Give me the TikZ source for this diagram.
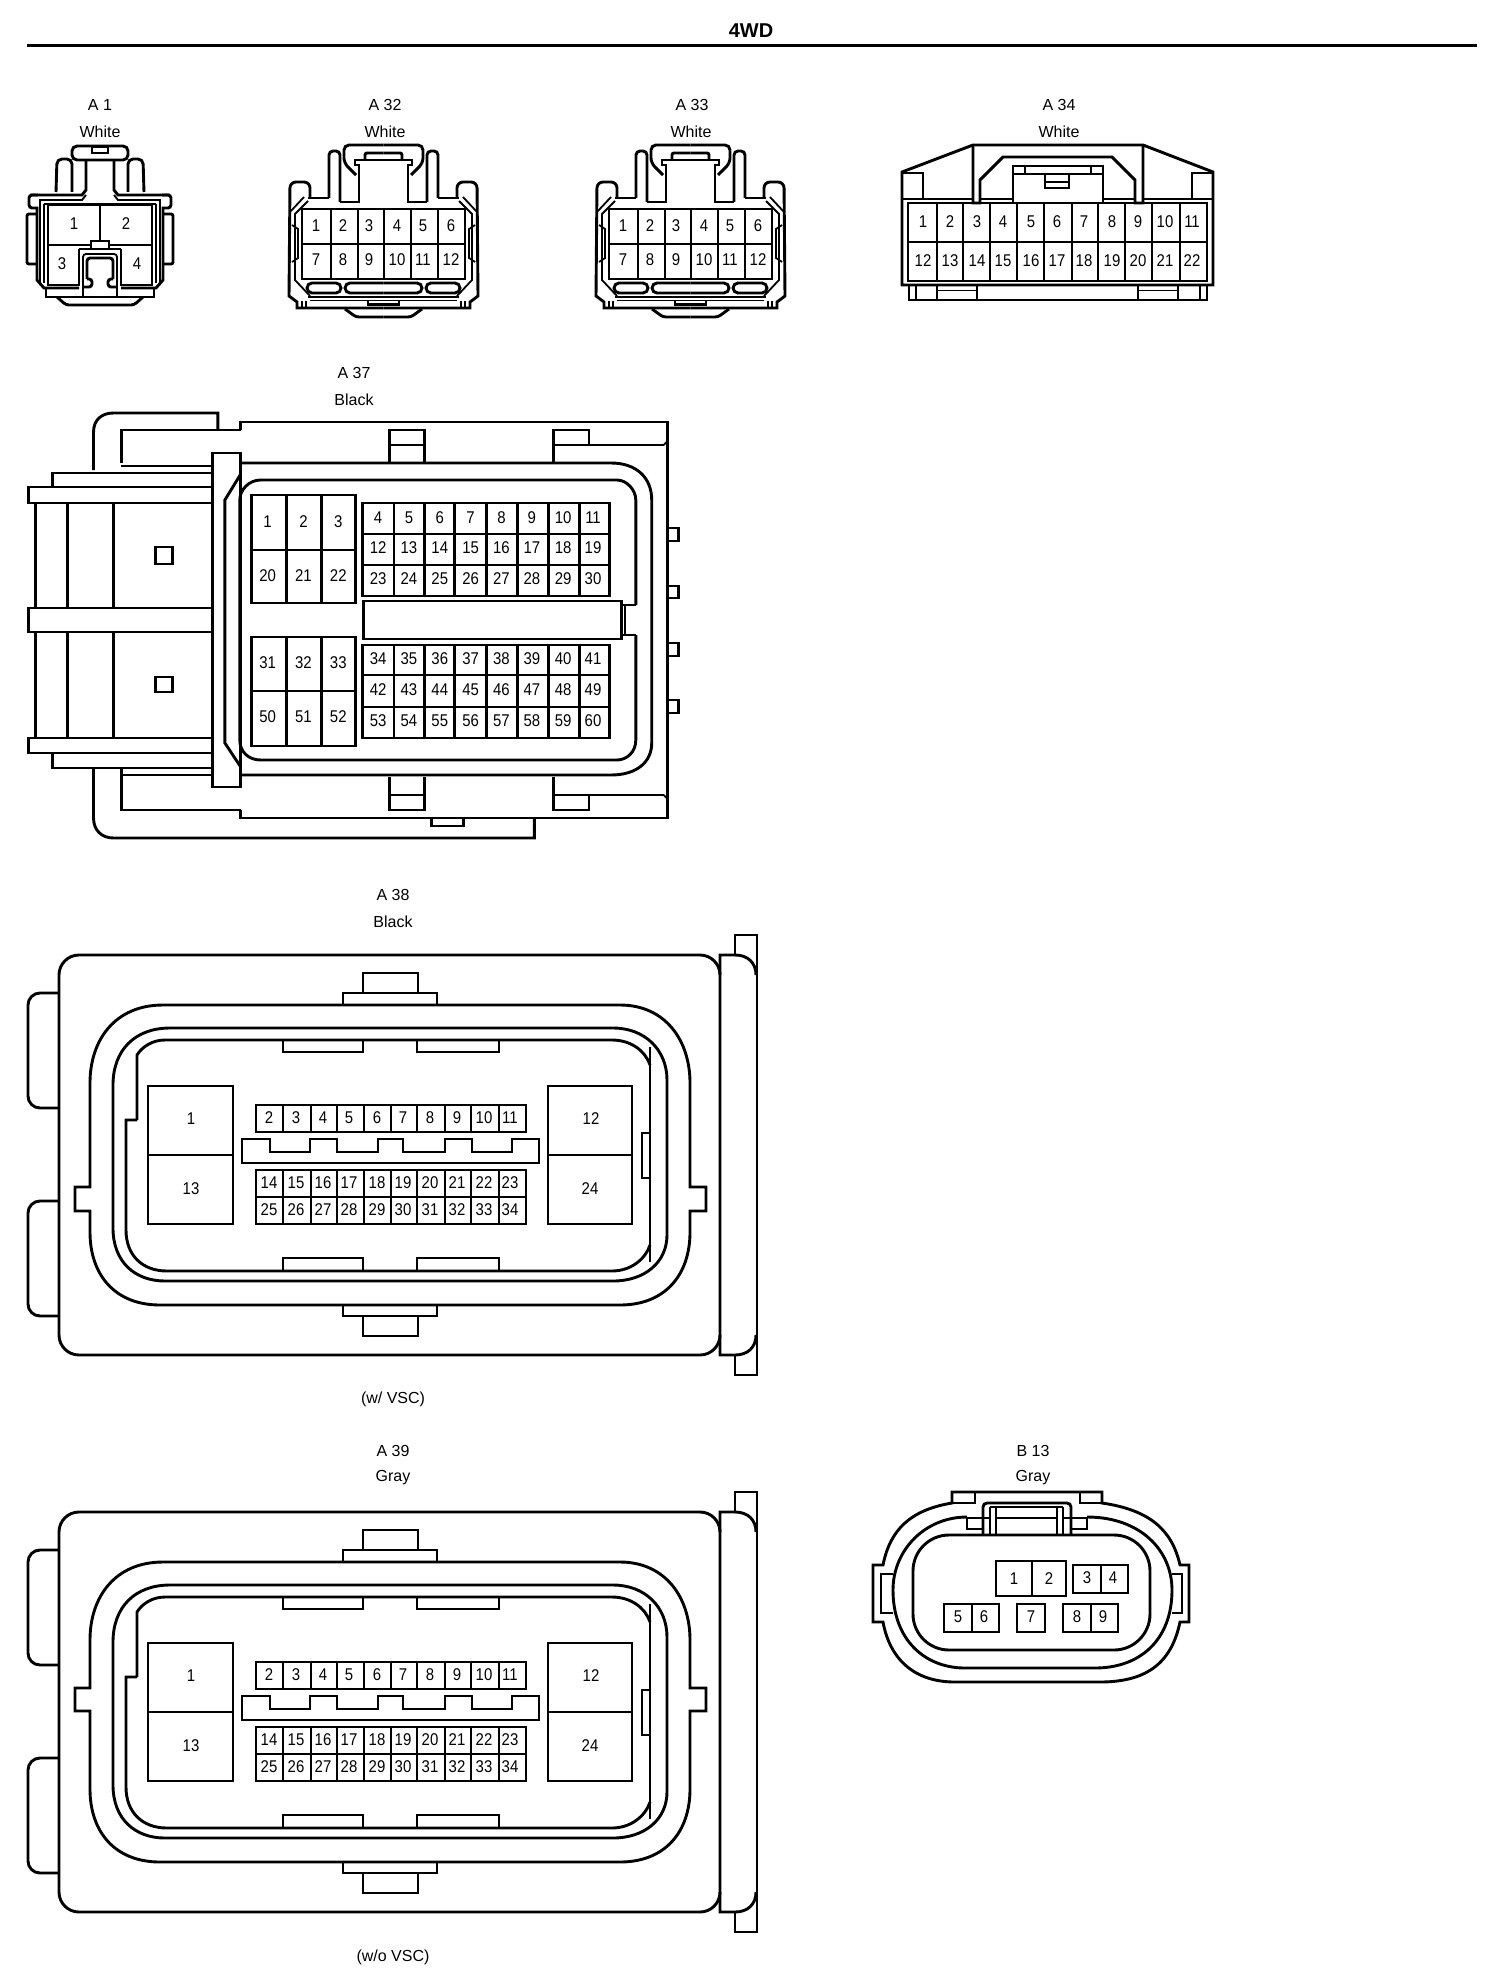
\documentclass[tikz,border=0pt]{standalone}
\usepackage{fontspec}
\setmainfont{Liberation Sans}
\newfontfamily\pinfont[FakeStretch=0.88]{Liberation Sans}
\tikzset{
  ln/.style={draw=black,line width=2.9pt,line join=miter,line cap=butt},
  tn/.style={draw=black,line width=1.8pt},
  pinlab/.style={inner sep=0pt,font=\pinfont\fontsize{17}{19}\selectfont},
  caption/.style={inner sep=0pt,font=\fontsize{16}{18}\selectfont},
}
\newcommand{\pinrow}[4]{\foreach \xx [count=\ii from #4] in {#2} \node[pinlab,name=#1-\ii] at (\xx,#3) {\ii};}
\newcommand{\vdiv}[3]{\foreach \xx in {#3} \draw[ln] (\xx,#1)--(\xx,#2);}
% half drawings, mirrored
\newcommand{\aonehalf}{
  \draw[ln] (100,205)--(48,205)--(48,285)--(79,285)--(79,249);
  \draw[ln] (48,245)--(91,245);
  \draw[ln] (100,205)--(100,241);
  \draw[ln] (100,241)--(91,241)--(91,249)--(100,249);
  \draw[ln] (79,249)--(91,249);
  \draw[tn,rounded corners=3pt] (100,254)--(83,254)--(83,297);
  \draw[ln,rounded corners=3pt] (100,258)--(87,258)--(87,279);
  \draw[ln,rounded corners=3pt] (87,279)--(92,279)--(92,287)--(83,287);
  \draw[ln,rounded corners=5pt] (72,192)--(72,159)--(57,159)--(56,192);
  \draw[ln,rounded corners=5pt] (100,146)--(72,146)--(72,160)--(100,160);
  \draw[ln] (100,147)--(92,147)--(92,153)--(100,153);
  \draw[ln] (86,160)--(86,190)--(82,195)--(30,195);
  \draw[tn] (86,195)--(82,200)--(40,200)--(40,285);
  \draw[ln] (44,204)--(100,204);
  \draw[ln,rounded corners=3pt] (38,195)--(29,195)--(29,208)--(38,208);
  \draw[ln,rounded corners=2pt] (37,214)--(27,214)--(27,264)--(37,264);
  \draw[ln] (37,207)--(37,280)--(44,288)--(79,288);
  \draw[ln] (46,288)--(46,297)--(100,297);
  \draw[ln,rounded corners=3pt] (57,297)--(66,305)--(100,305);
  \draw[tn] (44,204)--(44,283);
}
\newcommand{\athirtytwohalf}{
  \draw[ln,rounded corners=5pt] (383.5,145)--(344,145)--(344,163)--(356,175);
  \draw[ln] (383.5,160)--(355,160)--(355,165)--(359,165)--(359,202)--(340,202);
  \draw[ln,rounded corners=2pt] (383.5,153)--(365,153)--(365,160);
  \draw[ln,rounded corners=4pt] (340,202)--(340,151)--(329,151)--(329,198);
  \draw[ln] (329,198)--(308,198);
  \draw[ln,rounded corners=6pt] (310,198)--(310,182)--(290,182)--(289,297);
  \draw[tn] (308,201)--(295,214)--(295,280)--(310,296);
  \draw[tn] (290,212)--(304,197);
  \draw[tn] (292,225)--(298,229)--(298,258)--(292,262);
  \draw[ln] (289,296)--(297,302)--(297,308)--(383.5,308);
  \draw[ln] (308,297)--(383.5,297);
  \draw[tn] (310,300.5)--(383.5,300.5);
  \draw[tn] (302,301)--(302,308) (306,301)--(306,308);
  \draw[ln,rounded corners=3pt] (345,309)--(356,317)--(383.5,317);
  \draw[ln] (368,301)--(368,304.5)--(383.5,304.5);
  \draw[ln,rounded corners=5pt] (307,283)--(341,283)--(341,293)--(307,293)--cycle;
  \draw[ln,rounded corners=5pt] (383.5,283)--(345,283)--(345,293)--(383.5,293);
}
\newcommand{\athirtytwo}[1]{
  \draw[ln] (302,209) rectangle (465,279);
  \draw[ln] (302,244)--(465,244);
  \vdiv{209}{279}{331,358,384,411,438}
  \pinrow{#1}{316,343,369,397,423,451}{226}{1}
  \pinrow{#1}{316,343,369,397,423,451}{260}{7}
  \athirtytwohalf
  \begin{scope}[shift={(767,0)},xscale=-1]\athirtytwohalf\end{scope}
}
\newcommand{\ecuconn}[4]{
 \begin{scope}[shift={(0,#2)}]
  \draw[ln,rounded corners=20pt] (59,955) rectangle (720,1355);
  \draw[ln,rounded corners=12pt] (59,993)--(28,993)--(28,1108)--(59,1108);
  \draw[ln,rounded corners=12pt] (59,1201)--(28,1201)--(28,1316)--(59,1316);
  \draw[ln] (735,955)--(735,935)--(757,935)--(757,1375)--(735,1375)--(735,1355);
  \draw[ln] (720,975)--(720,955)--(735,955) .. controls (748,955) and (756,963) .. (756,975) (756,1335) .. controls (756,1347) and (748,1355) .. (735,1355)--(720,1355)--(720,1335);
  \draw[ln] (343,1005)--(343,993)--(437,993)--(437,1005);
  \draw[ln] (363,993)--(363,973)--(418,973)--(418,993);
  \draw[ln] (343,1305)--(343,1316)--(437,1316)--(437,1305);
  \draw[ln] (363,1316)--(363,1336)--(418,1336)--(418,1316);
  % outer seal
  \draw[ln] (163,1005)--(620,1005) .. controls (665,1005) and (690,1040) .. (690,1083)--(690,#3)--(706,#3)--(706,#4)--(690,#4)--(690,1232) .. controls (690,1275) and (665,1305) .. (620,1305)--(160,1305) .. controls (115,1305) and (90,1275) .. (90,1232)--(90,#4)--(75,#4)--(75,#3)--(90,#3)--(90,1083) .. controls (90,1040) and (115,1005) .. (163,1005)--cycle;
  % middle seal
  \draw[ln] (170,1028)--(613,1028) .. controls (645,1028) and (667,1050) .. (667,1080)--(667,1235) .. controls (667,1262) and (645,1281) .. (613,1281)--(165,1281) .. controls (135,1281) and (113,1262) .. (113,1228)--(113,1085) .. controls (113,1050) and (135,1028) .. (170,1028)--cycle;
  % inner
  \draw[ln] (137,1120)--(137,1055) .. controls (142,1047) and (152,1040) .. (165,1040)--(612,1040) .. controls (630,1040) and (645,1050) .. (650,1065) (650,1245) .. controls (645,1260) and (630,1271) .. (612,1271)--(167,1271) .. controls (142,1271) and (126,1255) .. (126,1230)--(126,1120)--(137,1120);
  \draw[ln] (650,1047)--(650,1262);
  \draw[ln] (650,1133)--(642,1133)--(642,1178)--(650,1178);
  \draw[ln] (283,1040)--(283,1052)--(363,1052)--(363,1040);
  \draw[ln] (417,1040)--(417,1052)--(499,1052)--(499,1040);
  \draw[ln] (283,1271)--(283,1258)--(363,1258)--(363,1271);
  \draw[ln] (417,1271)--(417,1258)--(499,1258)--(499,1271);
  % big pins
  \draw[ln] (148,1086) rectangle (233,1224);
  \draw[ln] (148,1155)--(233,1155);
  \draw[ln] (548,1086) rectangle (632,1224);
  \draw[ln] (548,1155)--(632,1155);
  \node[pinlab,name=#1-1] at (191,1119) {1};
  \node[pinlab,name=#1-13] at (191,1189) {13};
  \node[pinlab,name=#1-12] at (591,1119) {12};
  \node[pinlab,name=#1-24] at (590,1189) {24};
  % small pins
  \draw[ln] (256,1105) rectangle (526,1132);
  \draw[ln] (256,1170) rectangle (526,1224);
  \draw[tn] (256,1197)--(526,1197);
  \vdiv{1105}{1132}{283,311,337,364,391,417,445,471,499}
  \vdiv{1170}{1224}{283,311,337,364,391,417,445,471,499}
  \pinrow{#1}{269,296,323,349,377,403,430,457,484,510}{1118}{2}
  \pinrow{#1}{269,296,323,349,377,403,430,457,484,510}{1183}{14}
  \pinrow{#1}{269,296,323,349,377,403,430,457,484,510}{1210}{25}
  % key
  \draw[ln] (242,1163)--(242,1139)--(270,1139)--(270,1152)--(310,1152)--(310,1139)--(337,1139)--(337,1152)--(378,1152)--(378,1139)--(403,1139)--(403,1152)--(445,1152)--(445,1139)--(472,1139)--(472,1152)--(512,1152)--(512,1139)--(539,1139)--(539,1163)--cycle;
 \end{scope}
}
\begin{document}
\begin{tikzpicture}[x=1pt,y=-1pt]
\useasboundingbox (0,0) rectangle (1504,1980);
\fill[white] (0,0) rectangle (1504,1980);
% title
\node[inner sep=0pt,font=\fontsize{20}{22}\bfseries\selectfont,name=title] at (751,31) {4WD};
\coordinate (ruleL) at (27,45.5);
\coordinate (ruleR) at (1477,45.5);
\draw[line width=3.8pt] (ruleL)--(ruleR);
% captions
\node[caption,name=capA1] at (100,105) {A 1};
\node[caption,name=capA1c] at (100,132) {White};
\node[caption,name=capA32] at (385,105) {A 32};
\node[caption,name=capA32c] at (385,132) {White};
\node[caption,name=capA33] at (692,105) {A 33};
\node[caption,name=capA33c] at (691,132) {White};
\node[caption,name=capA34] at (1059,105) {A 34};
\node[caption,name=capA34c] at (1059,132) {White};
\node[caption,name=capA37] at (354,373) {A 37};
\node[caption,name=capA37c] at (354,400) {Black};
\node[caption,name=capA38] at (393,895) {A 38};
\node[caption,name=capA38c] at (393,922) {Black};
\node[caption,name=capA38n] at (393,1399) {(w/ VSC)};
\node[caption,name=capA39] at (393,1451) {A 39};
\node[caption,name=capA39c] at (393,1478) {Gray};
\node[caption,name=capA39n] at (393,1957) {(w/o VSC)};
\node[caption,name=capB13] at (1033,1451) {B 13};
\node[caption,name=capB13c] at (1033,1478) {Gray};
% A1
\aonehalf
\begin{scope}[shift={(200,0)},xscale=-1]\aonehalf\end{scope}
\node[pinlab,name=A1-1] at (74,224) {1};
\node[pinlab,name=A1-2] at (126,224) {2};
\node[pinlab,name=A1-3] at (62,264) {3};
\node[pinlab,name=A1-4] at (137,264) {4};
% A32 and A33
\athirtytwo{A32}
\begin{scope}[shift={(307,0)}]\athirtytwo{A33}\end{scope}
% A34
\draw[ln] (902,285)--(902,172)--(973,145)--(1143,145)--(1213,172)--(1213,285)--cycle;
\draw[ln] (908,203) rectangle (1207,281);
\draw[ln] (908,242)--(1207,242);
\vdiv{203}{281}{937,963,990,1017,1044,1072,1098,1125,1152,1180}
\pinrow{A34}{923,950,977,1003,1031,1057,1084,1112,1138,1165,1192}{222}{1}
\pinrow{A34}{923,950,977,1003,1031,1057,1084,1112,1138,1165,1192}{261}{12}
\draw[ln] (902,199)--(973,199) (980,199)--(1013,199) (1103,199)--(1135,199) (1143,199)--(1213,199);
\draw[ln] (903,173)--(923,173)--(923,199);
\draw[ln] (1213,173)--(1192,173)--(1192,199);
\draw[ln] (973,145)--(973,203)--(980,203)--(980,180)--(1003,157)--(1112,157)--(1135,180)--(1135,203)--(1143,203)--(1143,145);
\draw[ln] (1013,203)--(1013,166)--(1103,166)--(1103,203);
\draw[ln] (1013,174)--(1103,174);
\draw[ln] (1025,166)--(1025,174) (1091,166)--(1091,174);
\draw[ln] (1045,174)--(1045,188)--(1069,188)--(1069,174);
\draw[tn] (1045,182)--(1069,182);
\draw[ln] (909,285)--(909,300)--(1207,300)--(1207,285);
\draw[tn] (916,285)--(916,300) (1200,285)--(1200,300);
\draw[ln] (937,285)--(937,300) (977,285)--(977,300) (1138,285)--(1138,300) (1178,285)--(1178,300);
\draw[tn] (937,290.5)--(977,290.5) (1138,290.5)--(1178,290.5);
% A37
\begin{scope}[xscale=0.995]
\draw[ln] (242,430)--(242,422)--(671,422)--(671,818)--(242,818)--(242,810);
\draw[ln] (94,470)--(94,432) .. controls (94,420) and (102,413) .. (114,413)--(219,413)--(219,429);
\draw[ln] (122,463)--(122,430)--(242,430);
\draw[ln] (122,768)--(122,810)--(242,810);
\draw[ln] (94,768)--(94,818) .. controls (94,830) and (102,838) .. (114,838)--(537,838)--(537,819);
\draw[ln] (434,819)--(434,826)--(466,826)--(466,819);
\draw[ln] (556,463)--(556,445)--(667,445);
\draw[tn] (667,445)--(671,441) ;
\draw[ln] (556,777)--(556,795)--(667,795);
\draw[tn] (667,795)--(671,799);
\draw[ln] (391.5,463)--(391.5,430)--(427,430)--(427,463);
\draw[tn] (391.5,445)--(427,445);
\draw[ln] (556,445)--(556,430)--(592,430)--(592,445);
\draw[ln] (391.5,777)--(391.5,810)--(427,810)--(427,777);
\draw[tn] (391.5,795)--(427,795);
\draw[ln] (592,795)--(592,810)--(556,810)--(556,795);
% left plug
\draw[ln] (53,487)--(53,473)--(214,473);
\draw[ln] (214,487)--(29,487)--(29,503)--(214,503);
\draw[ln] (214,608)--(29,608)--(29,632)--(214,632);
\draw[ln] (214,738)--(29,738)--(29,753)--(214,753);
\draw[ln] (53,753)--(53,768)--(214,768);
\draw[ln] (122,466)--(214,466) (122,775)--(214,775);
\foreach \xx in {36,68,114} {\draw[ln] (\xx,503)--(\xx,608) (\xx,632)--(\xx,738);}
\draw[ln] (156,547) rectangle (173,564);
\draw[ln] (156,677) rectangle (173,692);
% flange
\draw[ln] (214,453) rectangle (242,787);
% seal
\draw[ln] (242,463)--(614,463) .. controls (640,463) and (655,478) .. (655,500)--(655,743) .. controls (655,762) and (640,775) .. (614,775)--(242,775);
\draw[ln] (242,474)--(226,500)--(226,743)--(242,767);
\draw[ln] (639,605)--(639,500) .. controls (639,490) and (630,480) .. (620,480)--(262,480) .. controls (250,480) and (241,490) .. (241,500)--(241,740) .. controls (241,752) and (250,760) .. (262,760)--(620,760) .. controls (630,760) and (639,752) .. (639,740)--(639,635);
\draw[ln] (639,605)--(626,605) (639,635)--(626,635);
\draw[ln] (365,601) rectangle (625,639);
\draw[tn] (628,605)--(628,635);
% right bumps
\draw[ln] (671,528)--(682,528)--(682,541)--(671,541);
\draw[ln] (671,586)--(682,586)--(682,598)--(671,598);
\draw[ln] (671,643)--(682,643)--(682,656)--(671,656);
\draw[ln] (671,700)--(682,700)--(682,713)--(671,713);
% big pins
\draw[ln] (253,495) rectangle (357,603);
\draw[ln] (253,550)--(357,550);
\vdiv{495}{603}{288,323}
\pinrow{A37}{269,305,340}{522}{1}
\pinrow{A37}{269,305,340}{576}{20}
\draw[ln] (253,637) rectangle (357,746);
\draw[ln] (253,691)--(357,691);
\vdiv{637}{746}{288,323}
\pinrow{A37}{269,305,340}{663}{31}
\pinrow{A37}{269,305,340}{717}{50}
% small pins
\draw[ln] (364.5,503) rectangle (612.5,596);
\draw[ln] (364.5,534)--(612.5,534) (364.5,565)--(612.5,565);
\vdiv{503}{596}{396,427,457,489,520,551,582}
\pinrow{A37}{380,411,442,473,504,534.5,566,596}{518}{4}
\pinrow{A37}{380,411,442,473,504,534.5,566,596}{548}{12}
\pinrow{A37}{380,411,442,473,504,534.5,566,596}{579}{23}
\draw[ln] (364.5,645) rectangle (612.5,738);
\draw[ln] (364.5,675)--(612.5,675) (364.5,707)--(612.5,707);
\vdiv{645}{738}{396,427,457,489,520,551,582}
\pinrow{A37}{380,411,442,473,504,534.5,566,596}{659}{34}
\pinrow{A37}{380,411,442,473,504,534.5,566,596}{690}{42}
\pinrow{A37}{380,411,442,473,504,534.5,566,596}{721}{53}
\end{scope}
% A38, A39
\ecuconn{A38}{0}{1187}{1211}
\ecuconn{A39}{557}{1131}{1154}
% B13
\draw[ln] (952,1503) .. controls (910,1510) and (890,1530) .. (883,1565)--(873,1565)--(873,1622)--(883,1622) .. controls (890,1660) and (915,1682) .. (955,1682)--(1100,1682) .. controls (1150,1682) and (1172,1660) .. (1180,1622)--(1189,1622)--(1189,1565)--(1180,1565) .. controls (1172,1530) and (1150,1510) .. (1102,1503)--(1102,1492)--(952,1492)--cycle;
\draw[ln] (975,1492)--(975,1503)--(952,1503);
\draw[ln] (1080,1492)--(1080,1503)--(1102,1503);
\draw[ln] (967,1517) .. controls (925,1517) and (893,1550) .. (893,1590) .. controls (893,1640) and (925,1668) .. (965,1668)--(1095,1668) .. controls (1140,1668) and (1172,1640) .. (1172,1590) .. controls (1172,1550) and (1140,1517) .. (1087,1517);
\draw[ln,rounded corners=36pt] (913,1535) rectangle (1150,1650);
\draw[ln] (893,1574)--(881,1574)--(881,1613)--(893,1613);
\draw[ln] (1172,1574)--(1182,1574)--(1182,1613)--(1172,1613);
\draw[ln,rounded corners=4pt] (983,1535)--(983,1503)--(1071,1503)--(1071,1535);
\draw[tn] (990,1507)--(990,1535) (996,1507)--(996,1535) (1057,1507)--(1057,1535) (1063,1507)--(1063,1535);
\draw[ln] (996,1518)--(1057,1518) (990,1507)--(1063,1507);
\draw[ln] (990,1518)--(967,1518)--(967,1529)--(983,1529);
\draw[ln] (1063,1518)--(1087,1518)--(1087,1529)--(1071,1529);
\draw[ln] (996,1561) rectangle (1066,1596);
\draw[ln] (1032,1561)--(1032,1596);
\draw[ln] (1073,1565) rectangle (1128,1593);
\draw[ln] (1101,1565)--(1101,1593);
\draw[ln] (944,1604) rectangle (999,1632);
\draw[ln] (972,1604)--(972,1632);
\draw[ln] (1017,1604) rectangle (1045,1632);
\draw[ln] (1063,1604) rectangle (1118,1632);
\draw[ln] (1091,1604)--(1091,1632);
\pinrow{B13}{1014,1049}{1579}{1}
\pinrow{B13}{1087,1113}{1578}{3}
\pinrow{B13}{958,984}{1617}{5}
\pinrow{B13}{1031}{1617}{7}
\pinrow{B13}{1077,1103}{1617}{8}
\end{tikzpicture}
\end{document}
